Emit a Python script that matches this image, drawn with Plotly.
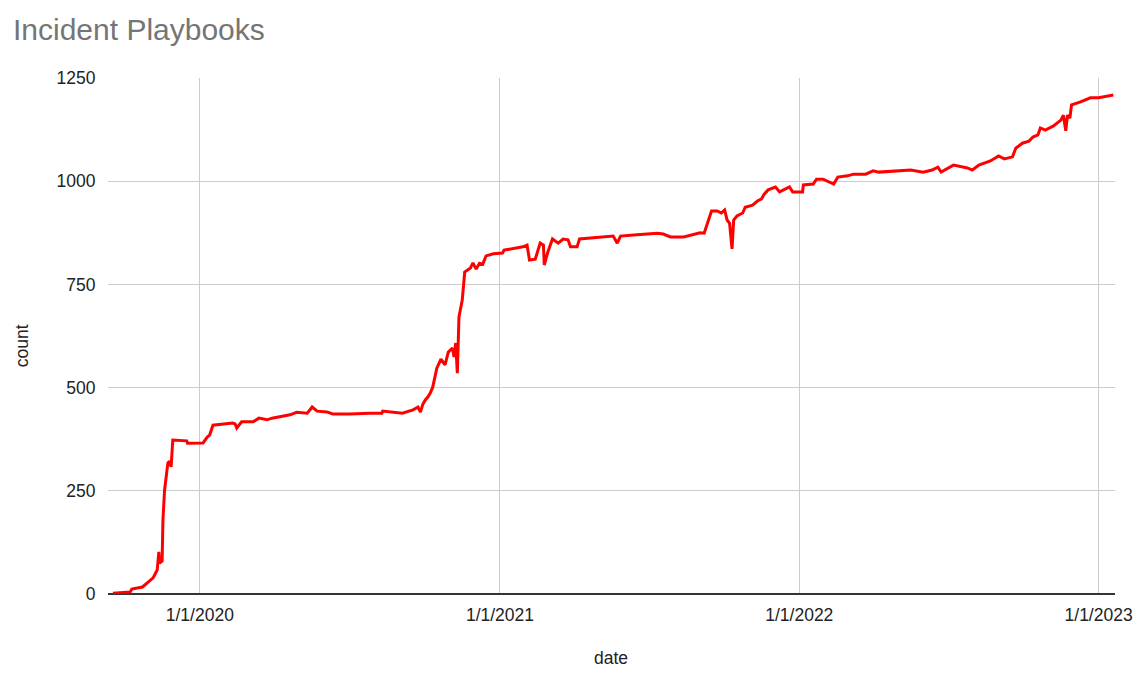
import plotly.graph_objects as go

dates = [
    "2019-09-17", "2019-10-08", "2019-10-10", "2019-10-23", "2019-10-30", "2019-11-05",
    "2019-11-10", "2019-11-12", "2019-11-13", "2019-11-16", "2019-11-17", "2019-11-19",
    "2019-11-23", "2019-11-25", "2019-11-27", "2019-11-29", "2019-12-16", "2019-12-17",
    "2020-01-05", "2020-01-10", "2020-01-13", "2020-01-17", "2020-02-10", "2020-02-13",
    "2020-02-15", "2020-02-21", "2020-03-06", "2020-03-13", "2020-03-23", "2020-03-29",
    "2020-04-20", "2020-04-28", "2020-05-11", "2020-05-17", "2020-05-23", "2020-06-04",
    "2020-06-11", "2020-07-02", "2020-07-26", "2020-08-10", "2020-08-11", "2020-08-24",
    "2020-09-04", "2020-09-17", "2020-09-23", "2020-09-26", "2020-09-29", "2020-10-02",
    "2020-10-05", "2020-10-08", "2020-10-11", "2020-10-16", "2020-10-21", "2020-10-26",
    "2020-10-30", "2020-11-04", "2020-11-06", "2020-11-08", "2020-11-10", "2020-11-12",
    "2020-11-16", "2020-11-19", "2020-11-26", "2020-11-29", "2020-12-03", "2020-12-07",
    "2020-12-11", "2020-12-15", "2020-12-24", "2021-01-04", "2021-01-06", "2021-01-29",
    "2021-02-03", "2021-02-06", "2021-02-13", "2021-02-19", "2021-02-23", "2021-02-24",
    "2021-02-28", "2021-03-06", "2021-03-13", "2021-03-19", "2021-03-25", "2021-03-28",
    "2021-04-05", "2021-04-08", "2021-05-03", "2021-05-19", "2021-05-24", "2021-05-28",
    "2021-06-17", "2021-07-12", "2021-07-19", "2021-07-28", "2021-08-13", "2021-08-25",
    "2021-09-02", "2021-09-07", "2021-09-11", "2021-09-16", "2021-09-23", "2021-09-28",
    "2021-10-02", "2021-10-05", "2021-10-08", "2021-10-11", "2021-10-13", "2021-10-17",
    "2021-10-24", "2021-10-27", "2021-11-05", "2021-11-11", "2021-11-16", "2021-11-19",
    "2021-11-24", "2021-12-03", "2021-12-08", "2021-12-15", "2021-12-20", "2021-12-24",
    "2022-01-05", "2022-01-06", "2022-01-18", "2022-01-22", "2022-01-30", "2022-02-12",
    "2022-02-17", "2022-03-01", "2022-03-08", "2022-03-23", "2022-04-01", "2022-04-08",
    "2022-05-17", "2022-06-01", "2022-06-12", "2022-06-19", "2022-06-23", "2022-07-08",
    "2022-07-25", "2022-07-31", "2022-08-08", "2022-08-22", "2022-09-01", "2022-09-08",
    "2022-09-18", "2022-09-22", "2022-09-30", "2022-10-08", "2022-10-13", "2022-10-19",
    "2022-10-22", "2022-10-28", "2022-11-07", "2022-11-16", "2022-11-19", "2022-11-22",
    "2022-11-24", "2022-11-27", "2022-11-29", "2022-12-10", "2022-12-22", "2023-01-01",
    "2023-01-12", "2023-01-19",
]

counts = [
    2, 5, 12, 17, 29, 39,
    58, 102, 75, 80, 179, 252,
    317, 322, 308, 373, 371, 365,
    366, 380, 385, 409, 414, 412,
    402, 417, 417, 426, 422, 426,
    434, 440, 438, 453, 443, 441,
    436, 436, 438, 438, 443, 441,
    438, 446, 453, 441, 460, 470,
    477, 487, 501, 547, 569, 555,
    586, 596, 574, 608, 535, 671,
    712, 780, 790, 802, 787, 801,
    799, 819, 824, 826, 833, 841,
    845, 809, 811, 850, 845, 797,
    826, 860, 850, 860, 858, 841,
    841, 860, 865, 867, 850, 867,
    870, 874, 872, 865, 865, 870,
    875, 874, 898, 928, 928, 923,
    930, 906, 898, 836, 906, 916,
    923, 937, 942, 952, 957, 968,
    979, 986, 974, 981, 986, 974,
    974, 991, 993, 1005, 1005, 993,
    1010, 1013, 1017, 1017, 1025, 1022,
    1027, 1022, 1027, 1034, 1022, 1039,
    1032, 1027, 1039, 1049, 1061, 1054,
    1059, 1080, 1092, 1097, 1107, 1112,
    1129, 1124, 1134, 1148, 1160, 1122,
    1160, 1153, 1185, 1192, 1202, 1202,
    1206, 1209,
]

tick_dates = ["2020-01-01", "2021-01-01", "2022-01-01", "2023-01-01"]
tick_labels = ["1/1/2020", "1/1/2021", "1/1/2022", "1/1/2023"]
y_ticks = [0, 250, 500, 750, 1000, 1250]

fig = go.Figure()

fig.add_trace(go.Scatter(
    x=dates,
    y=counts,
    mode="lines",
    line=dict(color="#ff0000", width=3),
    showlegend=False,
))

fig.update_layout(
    width=1139,
    height=676,
    paper_bgcolor="white",
    plot_bgcolor="white",
    margin=dict(l=108, r=24, t=78, b=82, autoexpand=False),
    font=dict(family="Arial, 'Liberation Sans', sans-serif", size=17.5, color="#222222"),
    title=dict(
        text="Incident Playbooks",
        x=0.0114, xanchor="left",
        y=0.957, yanchor="middle",
        font=dict(size=30, color="#757575"),
    ),
    xaxis=dict(
        type="date",
        range=["2019-09-11", "2023-01-21"],
        tickvals=tick_dates,
        ticktext=tick_labels,
        showgrid=True,
        gridcolor="#cccccc",
        gridwidth=1,
        ticks="outside",
        ticklen=5,
        tickcolor="rgba(0,0,0,0)",
        showline=False,
        zeroline=False,
        automargin=False,
    ),
    yaxis=dict(
        range=[0, 1250],
        tickvals=y_ticks,
        showgrid=True,
        gridcolor="#cccccc",
        gridwidth=1,
        ticks="outside",
        ticklen=8,
        tickcolor="rgba(0,0,0,0)",
        zeroline=True,
        zerolinecolor="#333333",
        zerolinewidth=1.5,
        showline=False,
        automargin=False,
    ),
)

fig.add_annotation(
    text="date", xref="paper", yref="paper", x=0.4995, y=-0.124,
    xanchor="center", yanchor="middle", showarrow=False,
    font=dict(size=17.5, color="#222222"),
)
fig.add_annotation(
    text="count", xref="paper", yref="paper", x=-0.0854, y=0.48,
    xanchor="center", yanchor="middle", showarrow=False, textangle=-90,
    font=dict(size=17.5, color="#222222"),
)

# drop the page's default body margin so the figure sits at 0,0
fig.write_html(
    "out.html",
    config={"displayModeBar": False},
    post_script="document.body.style.margin='0';document.body.style.overflow='hidden';",
)
